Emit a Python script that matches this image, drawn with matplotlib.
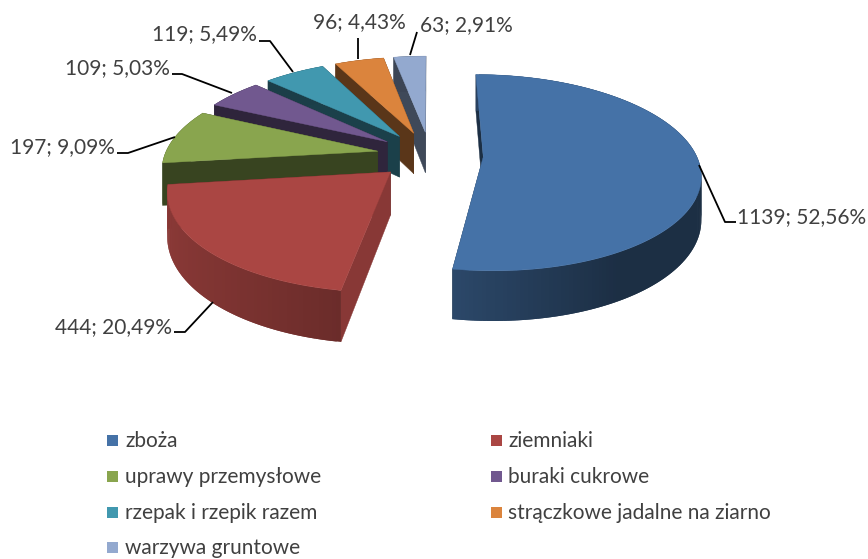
import matplotlib
matplotlib.use('Agg')
import matplotlib.pyplot as plt
import matplotlib.colors as mcolors
import numpy as np
from matplotlib.patches import Polygon, Rectangle

categories = ['zboża', 'ziemniaki', 'uprawy przemysłowe', 'buraki cukrowe',
              'rzepak i rzepik razem', 'strączkowe jadalne na ziarno', 'warzywa gruntowe']
values = [1139, 444, 197, 109, 119, 96, 63]

colors = ['#4572A7', '#AA4643', '#89A54E', '#71588F', '#4198AF', '#DB843D', '#93A9CF']
cut_shade = [0.41, 0.80, 0.41, 0.42, 0.42, 0.41, 0.43]

# leader lines, in pixels of the picture
leaders = [[(699, 165), (725, 222), (736, 222)],
           [(213, 302), (185, 332), (174, 332)],
           [(175, 137), (128, 153), (117, 153)],
           [(232, 93), (182, 74), (172, 74)],
           [(293, 72), (270, 41), (259, 41)],
           [(358, 59), (358, 38)],
           [(410, 55), (417, 32)]]
label_pos = [(737, 217, 'left'), (172, 327, 'right'), (115, 147, 'right'), (170, 68, 'right'),
             (257, 34, 'right'), (359, 22, 'center'), (420, 25, 'left')]

legend_x = [(107, 125), (491, 508)]
legend_y = [441, 477, 513, 548]

# pie geometry
X0, Y0 = 430, 155
RX, RY = 213, 95
EXPLODE = 0.25
PERSP = 0.16
DEPTH = 42
TEXT = '#404040'
FONT = 'Lato'


def project(x, y, drop=0.0):
    s = 1 / (1 + PERSP * y)
    return X0 + RX * x * s, Y0 - RY * y * s + DEPTH * drop * s


def shaded(col, f):
    return tuple(c * f for c in mcolors.to_rgb(col))


fig = plt.figure(figsize=(8.68, 5.59), dpi=100)
ax = fig.add_axes([0, 0, 1, 1])
ax.set_xlim(0, 868)
ax.set_ylim(559, 0)
ax.axis('off')

total = sum(values)
edges = np.cumsum([0] + values) / total * 2 * np.pi

# back slices first, the front ones paint over them
for i in range(len(values) - 1, -1, -1):
    t0, t1 = edges[i], edges[i + 1]
    mid = (t0 + t1) / 2
    ox, oy = EXPLODE * np.sin(mid), EXPLODE * np.cos(mid)
    th = np.linspace(t0, t1, max(int((t1 - t0) * 60), 6))
    rim_x, rim_y = ox + np.sin(th), oy + np.cos(th)

    # radial walls
    for k, sh in ((-1, 0.41), (0, cut_shade[i])):
        wall = [project(ox, oy), project(rim_x[k], rim_y[k]),
                project(rim_x[k], rim_y[k], 1), project(ox, oy, 1)]
        c = shaded(colors[i], sh)
        ax.add_patch(Polygon(wall, closed=True, fc=c, ec=c, lw=0.3))

    # outer wall: gradient on the two front slices, flat dark on the rest
    n = len(th)
    for j in range(n - 1):
        u = np.sin((th[j] + th[j + 1]) / 2)
        f = np.interp(u, [-1, -0.16, 0.5], [0.82, 0.63, 0.41]) if i < 2 else 0.41
        c = shaded(colors[i], f)
        e = min(j + 2, n - 1)  # overlaps the next quad so no seams show
        quad = [project(rim_x[j], rim_y[j]), project(rim_x[e], rim_y[e]),
                project(rim_x[e], rim_y[e], 1), project(rim_x[j], rim_y[j], 1)]
        ax.add_patch(Polygon(quad, closed=True, fc=c, ec='none', lw=0))

    # top face
    top = [project(ox, oy)] + [project(a, b) for a, b in zip(rim_x, rim_y)]
    ax.add_patch(Polygon(top, closed=True, fc=colors[i], ec=colors[i], lw=0.3))

# data labels
for i in range(len(values)):
    pts = np.array(leaders[i])
    ax.plot(pts[:, 0], pts[:, 1], color='black', lw=1.3, solid_capstyle='butt')
    pct = f'{values[i] / total * 100:.2f}'.replace('.', ',')
    x, y, ha = label_pos[i]
    ax.text(x, y, f'{values[i]}; {pct}%', ha=ha, va='center', fontsize=15,
            family=FONT, color=TEXT)

# legend
for i, name in enumerate(categories):
    sq, tx = legend_x[i % 2]
    y = legend_y[i // 2]
    ax.add_patch(Rectangle((sq, y - 6), 11, 11, fc=colors[i], ec='none'))
    ax.text(tx, y, name, ha='left', va='center', fontsize=15, family=FONT, color=TEXT)

fig.savefig('out.png', dpi=100)
